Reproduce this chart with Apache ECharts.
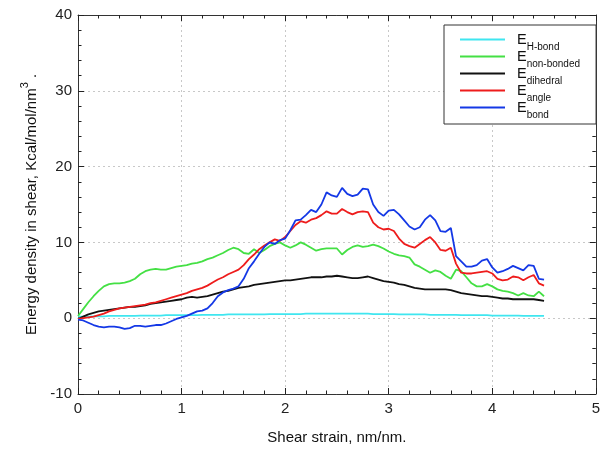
<!DOCTYPE html>
<html><head><meta charset="utf-8">
<script src="https://cdn.jsdelivr.net/npm/echarts@6/dist/echarts.min.js"></script>
<style>html,body{margin:0;padding:0;background:#fff}#c{width:603px;height:450px}</style>
</head><body><div id="c"></div>
<script>
var strain = [0,0.05,0.1,0.15,0.2,0.25,0.3,0.35,0.4,0.45,
0.5,0.55,0.6,0.65,0.7,0.75,0.8,0.85,0.9,0.95,
1,1.05,1.1,1.15,1.2,1.25,1.3,1.35,1.4,1.45,
1.5,1.55,1.6,1.65,1.7,1.75,1.8,1.85,1.9,1.95,
2,2.05,2.1,2.15,2.2,2.25,2.3,2.35,2.4,2.45,
2.5,2.55,2.6,2.65,2.7,2.75,2.8,2.85,2.9,2.95,
3,3.05,3.1,3.15,3.2,3.25,3.3,3.35,3.4,3.45,
3.5,3.55,3.6,3.65,3.7,3.75,3.8,3.85,3.9,3.95,
4,4.05,4.1,4.15,4.2,4.25,4.3,4.35,4.4,4.45,
4.5];
var seriesNames = ['H-bond','non-bonded','dihedral','angle','bond'];
var eHbond = [0.2,0.2,0.2,0.25,0.25,0.25,0.3,0.3,0.3,0.3,
0.3,0.3,0.35,0.35,0.35,0.35,0.35,0.4,0.4,0.4,
0.4,0.4,0.4,0.4,0.45,0.45,0.45,0.45,0.45,0.5,
0.5,0.5,0.5,0.5,0.5,0.5,0.5,0.55,0.55,0.55,
0.55,0.55,0.55,0.55,0.6,0.6,0.6,0.6,0.6,0.6,
0.6,0.6,0.6,0.6,0.6,0.6,0.6,0.55,0.55,0.55,
0.55,0.55,0.5,0.5,0.5,0.5,0.5,0.5,0.45,0.45,
0.45,0.45,0.45,0.45,0.4,0.4,0.4,0.4,0.4,0.4,
0.35,0.35,0.35,0.35,0.35,0.35,0.3,0.3,0.3,0.3,
0.3];
var eNonBonded = [0.3,1.2,2.1,2.9,3.6,4.2,4.5,4.6,4.6,4.7,
4.9,5.2,5.8,6.2,6.4,6.5,6.4,6.4,6.6,6.8,
6.9,7.0,7.2,7.3,7.5,7.8,8.0,8.3,8.6,9.0,
9.3,9.1,8.6,8.5,9.1,8.6,9.0,9.5,9.8,10.0,
9.6,9.3,9.6,10.0,9.7,9.3,8.9,9.1,9.2,9.2,
9.2,8.4,9.0,9.4,9.6,9.4,9.5,9.7,9.5,9.2,
8.8,8.5,8.3,8.2,8.0,7.1,6.8,6.4,6.0,6.3,
6.1,5.6,5.2,6.4,6.2,5.4,4.6,4.2,4.2,4.5,
4.2,3.8,3.6,3.5,3.3,3.0,3.3,3.0,2.9,3.5,
2.9];
var eDihedral = [-0.1,0.2,0.5,0.7,0.9,1.0,1.1,1.2,1.3,1.4,
1.5,1.5,1.6,1.7,1.9,2.0,2.1,2.2,2.3,2.4,
2.5,2.7,2.8,2.7,2.8,2.9,3.1,3.3,3.5,3.6,
3.8,4.0,4.1,4.2,4.4,4.5,4.6,4.7,4.8,4.9,
5.0,5.0,5.1,5.2,5.3,5.4,5.4,5.4,5.5,5.5,
5.6,5.5,5.4,5.3,5.3,5.4,5.5,5.3,5.1,4.9,
4.8,4.7,4.5,4.4,4.2,4.0,3.9,3.8,3.8,3.8,
3.8,3.8,3.7,3.5,3.3,3.2,3.1,3.0,2.9,2.9,
2.8,2.7,2.6,2.6,2.5,2.5,2.5,2.5,2.5,2.4,
2.3];
var eAngle = [-0.1,0.0,0.1,0.2,0.4,0.6,0.9,1.1,1.3,1.4,
1.5,1.6,1.7,1.8,2.0,2.1,2.3,2.5,2.7,2.9,
3.1,3.3,3.6,3.8,4.0,4.3,4.7,5.1,5.4,5.8,
6.1,6.4,7.0,7.8,8.4,9.1,9.6,10.0,10.4,10.2,
10.7,11.5,12.3,12.8,12.6,13.0,13.2,13.6,14.1,13.8,
13.8,14.4,14.0,13.7,14.0,14.1,14.0,12.6,12.0,11.7,
11.8,11.5,10.5,9.8,9.5,9.3,9.8,10.3,10.7,10.0,
9.0,8.9,9.3,7.2,6.0,5.9,5.9,6.0,6.1,6.2,
5.9,5.2,5.0,5.1,5.5,5.4,5.0,5.4,5.7,4.6,
4.3];
var eBond = [-0.2,-0.3,-0.6,-0.9,-1.1,-1.2,-1.1,-1.1,-1.2,-1.4,
-1.3,-1.0,-1.0,-1.1,-1.0,-0.9,-0.9,-0.7,-0.4,-0.1,
0.1,0.3,0.6,0.9,1.0,1.3,2.0,2.9,3.4,3.7,
3.9,4.2,5.2,6.6,7.5,8.5,9.4,10.0,9.8,10.3,
10.5,11.6,12.9,13.0,13.6,14.3,14.0,15.0,16.6,16.2,
16.0,17.2,16.4,16.1,16.3,17.1,17.0,15.0,14.0,13.5,
14.2,14.3,13.7,12.9,12.1,11.7,12.0,13.0,13.6,12.9,
11.5,11.4,11.9,8.2,7.5,6.8,6.8,7.0,7.6,7.8,
6.7,6.0,6.2,6.5,6.9,6.6,6.3,7.0,6.9,5.2,
5.1];
var seriesValues = [eHbond, eNonBonded, eDihedral, eAngle, eBond];
var seriesColors = ['#3fe6f0','#44e044','#111111','#ee1c1c','#1438e6'];

var chart = echarts.init(document.getElementById('c'), null, {renderer:'canvas'});
var FONT = 'Liberation Sans, Arial, sans-serif';
var tickStyle = {show:true, inside:true, length:6, lineStyle:{color:'#222', width:1}};
var minorStyle = {show:true, splitNumber:5, length:3.5, lineStyle:{color:'#222', width:1}};
var axLine = {show:true, onZero:false, lineStyle:{color:'#333', width:1}};
var split = {show:true, lineStyle:{color:'#c8c8c8', type:[2,3], width:1}};

function pairs(v){ return strain.map(function(x,i){ return [x, v[i]]; }); }

var option = {
  animation:false,
  backgroundColor:'#fff',
  textStyle:{fontFamily:FONT},
  grid:{left:78, right:5, top:15, bottom:55, containLabel:false},
  legend:{
    orient:'vertical', left:444, top:25,
    padding:[2,16,4,16],
    backgroundColor:'#fff',
    borderColor:'#333', borderWidth:1,
    icon:'rect', itemWidth:45, itemHeight:2, itemGap:-8,
    data: seriesNames.map(function(n){ return {name:n}; }),
    formatter:function(n){ return '{e|E}{s|' + n + '}'; },
    textStyle:{
      color:'#111', fontFamily:FONT, padding:[0,0,0,7],
      rich:{
        e:{fontSize:14.5, lineHeight:17, verticalAlign:'middle', fontFamily:FONT, color:'#111'},
        s:{fontSize:10, lineHeight:10, padding:[15,0,0,0], verticalAlign:'middle', fontFamily:FONT, color:'#111'}
      }
    }
  },
  xAxis:[{
    type:'value', min:0, max:5, interval:1, position:'bottom',
    axisLine:axLine, axisTick:tickStyle, minorTick:minorStyle,
    splitLine:split,
    axisLabel:{color:'#222', fontSize:15, margin:7, fontFamily:FONT},
    name:'Shear strain, nm/nm.', nameLocation:'middle', nameGap:36,
    nameTextStyle:{color:'#111', fontSize:15, fontFamily:FONT}
  },{
    type:'value', min:0, max:5, interval:1, position:'top',
    axisLine:axLine, axisTick:tickStyle, minorTick:minorStyle,
    splitLine:{show:false}, axisLabel:{show:false}
  }],
  yAxis:[{
    type:'value', min:-10, max:40, interval:10, position:'left',
    axisLine:axLine, axisTick:tickStyle, minorTick:minorStyle,
    splitLine:split,
    axisLabel:{color:'#222', fontSize:15, margin:6, fontFamily:FONT},
    name:'{a|Energy density in shear, Kcal/mol/nm}{p|3}{a| .}', nameLocation:'middle', nameGap:38,
    nameTextStyle:{color:'#111', fontFamily:FONT,
      rich:{
        a:{fontSize:15, lineHeight:20, verticalAlign:'bottom', fontFamily:FONT, color:'#111'},
        p:{fontSize:11, lineHeight:11, verticalAlign:'top', fontFamily:FONT, color:'#111'}
      }}
  },{
    type:'value', min:-10, max:40, interval:10, position:'right',
    axisLine:axLine, axisTick:tickStyle, minorTick:minorStyle,
    splitLine:{show:false}, axisLabel:{show:false}
  }],
  series: seriesNames.map(function(n,k){
    return {
      name:n, type:'line', xAxisIndex:0, yAxisIndex:0,
      data:pairs(seriesValues[k]), showSymbol:false, symbol:'none',
      lineStyle:{color:seriesColors[k], width:1.8}, itemStyle:{color:seriesColors[k]},
      smooth:false, z:2+k
    };
  })
};
chart.setOption(option);
</script></body></html>
